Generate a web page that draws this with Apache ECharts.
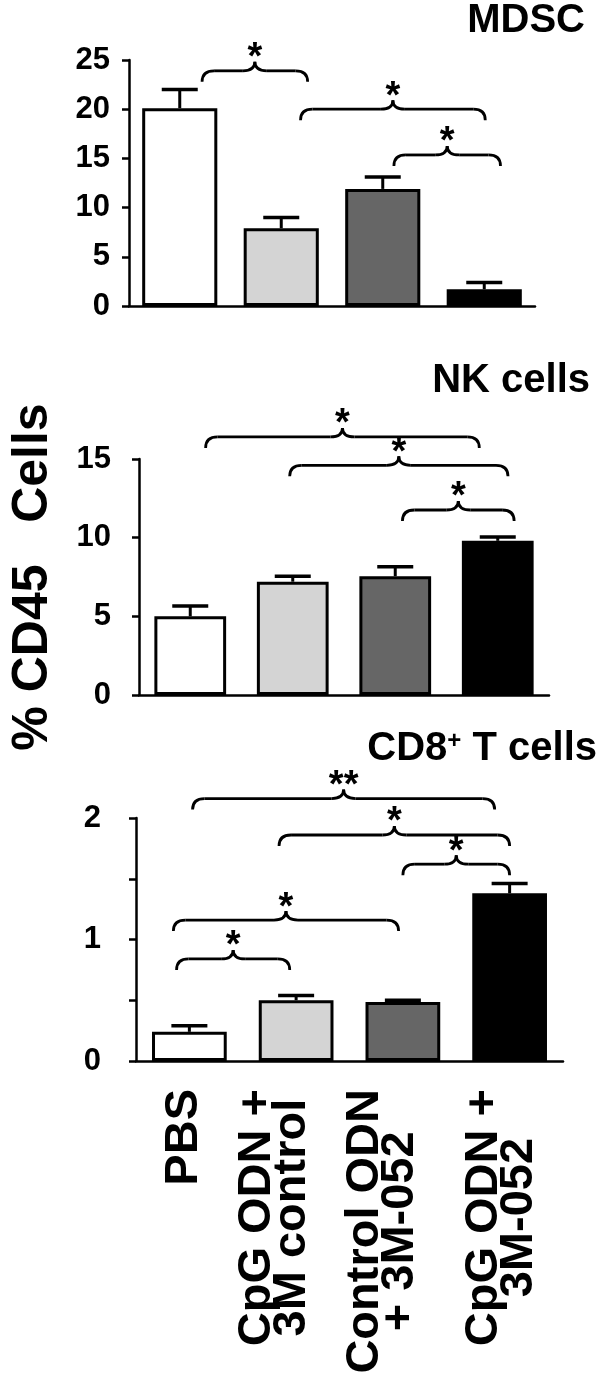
<!DOCTYPE html>
<html><head><meta charset="utf-8">
<script src="https://cdn.jsdelivr.net/npm/echarts@6/dist/echarts.min.js"></script>
<style>html,body{margin:0;padding:0;background:#fff}#c{width:600px;height:1392px}</style>
</head><body><div id="c"></div>
<script>
// ---- data ----
const categories = ['PBS', 'CpG ODN +\n3M control', 'Control ODN\n+ 3M-052', 'CpG ODN +\n3M-052'];

const mdscMean = [20.1, 7.9, 11.9, 1.7];
const mdscUpper = [22.0, 9.0, 13.1, 2.4];
const mdscTicks = { min: 0, max: 25, interval: 5 };
const mdscBracketFrom = [0.22, 1.19, 2.11];
const mdscBracketTo = [1.26, 3.01, 3.16];
const mdscBracketLevel = [23.9, 20.0, 15.35];
const mdscBracketStars = ['*', '*', '*'];

const nkMean = [5.0, 7.2, 7.55, 9.8];
const nkUpper = [5.65, 7.55, 8.15, 10.05];
const nkTicks = { min: 0, max: 15, interval: 5 };
const nkBracketFrom = [0.15, 0.97, 2.07];
const nkBracketTo = [2.82, 3.10, 3.16];
const nkBracketLevel = [16.4, 14.6, 11.76];
const nkBracketStars = ['*', '*', '*'];

const cd8Mean = [0.24, 0.50, 0.485, 1.38];
const cd8Upper = [0.29, 0.54, 0.50, 1.46];
const cd8Ticks = { min: 0, max: 2, interval: 0.5 };
const cd8BracketFrom = [0.03, 0.84, 2.0, -0.15, -0.12];
const cd8BracketTo = [2.86, 3.0, 3.0, 1.96, 0.94];
const cd8BracketLevel = [2.16, 1.86, 1.62, 1.16, 0.84];
const cd8BracketStars = ['**', '*', '*', '*', '*'];

const panelTitles = ['MDSC', 'NK cells', 'CD8{s|+} T cells'];
const yTitle = '% CD45   Cells';

// ---- styling ----
const FONT = '"Liberation Sans", Arial, Helvetica, sans-serif';
const barColors = ['#ffffff', '#d4d4d4', '#666666', '#000000'];
const labelShiftLeft = [5, 22, 20, 8]; // px, style only

function barSeries(idx, means, width) {
  return {
    type: 'bar', xAxisIndex: idx, yAxisIndex: idx, barWidth: width, silent: true,
    data: means.map((v, i) => ({ value: v, itemStyle: { color: barColors[i] } })),
    itemStyle: { borderColor: '#000', borderWidth: 3 }
  };
}
function errSeries(idx, means, uppers) {
  return {
    type: 'custom', xAxisIndex: idx, yAxisIndex: idx, clip: false, silent: true, z: 3,
    data: means.map((m, i) => [i, m, uppers[i]]),
    encode: { x: 0, y: 1 },
    renderItem(params, api) {
      const p0 = api.coord([api.value(0), api.value(1)]);
      const p1 = api.coord([api.value(0), api.value(2)]);
      return { type: 'group', children: [
        { type: 'line', shape: { x1: p0[0], y1: p0[1], x2: p1[0], y2: p1[1] }, style: { stroke: '#000', lineWidth: 3 } },
        { type: 'line', shape: { x1: p1[0] - 18, y1: p1[1], x2: p1[0] + 18, y2: p1[1] }, style: { stroke: '#000', lineWidth: 3.5 } }
      ]};
    }
  };
}
function bracketSeries(idx, from, to, level, stars) {
  return {
    type: 'custom', xAxisIndex: idx, yAxisIndex: idx, clip: false, silent: true, z: 4,
    data: level.map((l, i) => [0, l, from[i], to[i]]),
    encode: { x: 0, y: 1 },
    renderItem(params, api) {
      const c0 = api.coord([0, api.value(1)]);
      const band = api.size([1, 0])[0];
      const x1 = c0[0] + api.value(2) * band;
      const x2 = c0[0] + api.value(3) * band;
      const y = c0[1];
      const xm = (x1 + x2) / 2;
      const r = 12, drop = 11, rise = 9;
      const st = { stroke: '#000', lineWidth: 2.8, fill: null };
      return { type: 'group', children: [
        { type: 'bezierCurve', shape: { x1: x1, y1: y + drop, cpx1: x1, cpy1: y, x2: x1 + r, y2: y }, style: st },
        { type: 'line', shape: { x1: x1 + r, y1: y, x2: xm - r, y2: y }, style: st },
        { type: 'bezierCurve', shape: { x1: xm - r, y1: y, cpx1: xm, cpy1: y, x2: xm, y2: y - rise }, style: st },
        { type: 'bezierCurve', shape: { x1: xm, y1: y - rise, cpx1: xm, cpy1: y, x2: xm + r, y2: y }, style: st },
        { type: 'line', shape: { x1: xm + r, y1: y, x2: x2 - r, y2: y }, style: st },
        { type: 'bezierCurve', shape: { x1: x2 - r, y1: y, cpx1: x2, cpy1: y, x2: x2, y2: y + drop }, style: st },
        { type: 'text', x: xm, y: y - 12, style: { text: stars[params.dataIndex], font: 'bold 38px ' + FONT, fill: '#000', align: 'center', verticalAlign: 'middle' } }
      ]};
    }
  };
}

function xAxis(idx, showLabels) {
  return {
    type: 'category', gridIndex: idx,
    data: categories.map((c, i) => ({ value: c, textStyle: { padding: [0, 0, 2 * labelShiftLeft[i], 0] } })),
    axisLine: { lineStyle: { color: '#000', width: 2.5 } },
    axisTick: { alignWithLabel: true, length: 8, lineStyle: { color: '#000', width: 2.5 } },
    axisLabel: {
      show: showLabels, rotate: 90, margin: 28, interval: 0,
      fontSize: 47, lineHeight: 35, fontWeight: 'bold', fontFamily: FONT, color: '#000',
      formatter: v => v.split('\n').map(l => '{c|' + l + '}').join('\n'),
      rich: { c: { align: 'center', fontSize: 47, lineHeight: 35, fontWeight: 'bold', fontFamily: FONT, color: '#000' } }
    }
  };
}
function yAxis(idx, ticks, margin, fmt) {
  return {
    type: 'value', gridIndex: idx, min: ticks.min, max: ticks.max, interval: ticks.interval,
    splitLine: { show: false },
    axisLine: { show: true, lineStyle: { color: '#000', width: 2.5 } },
    axisTick: { show: true, length: 7, lineStyle: { color: '#000', width: 2.5 } },
    axisLabel: { margin: margin, fontSize: 31, fontWeight: 'bold', fontFamily: FONT, color: '#000', formatter: fmt }
  };
}

const titleStyle = (size) => ({ fontSize: size, fontWeight: 'bold', fontFamily: FONT, color: '#000',
  rich: { s: { fontSize: 24, fontWeight: 'bold', fontFamily: FONT, color: '#000', verticalAlign: 'top', lineHeight: 26 } } });

const yAxes = [
  yAxis(0, mdscTicks, 19),
  yAxis(1, nkTicks, 28),
  yAxis(2, cd8Ticks, 35, v => (Math.abs(v - Math.round(v)) < 1e-9 ? String(Math.round(v)) : ''))
];
Object.assign(yAxes[1], {
  name: yTitle, nameLocation: 'middle', nameGap: 81, nameRotate: 90,
  nameTextStyle: { fontSize: 50, fontWeight: 'bold', fontFamily: FONT, color: '#000' }
});

const option = {
  animation: false,
  backgroundColor: '#fff',
  title: [
    { text: panelTitles[0], right: 15, top: 1, padding: 0, textStyle: titleStyle(40) },
    { text: panelTitles[1], right: 10, top: 361, padding: 0, textStyle: titleStyle(40) },
    { text: panelTitles[2], right: 3, top: 729, padding: 0, textStyle: titleStyle(40) }
  ],
  grid: [
    { left: 129, top: 60, width: 406, height: 246 },
    { left: 133, top: 459, width: 416, height: 236 },
    { left: 136, top: 818, width: 427, height: 243 }
  ],
  xAxis: [xAxis(0, false), xAxis(1, false), xAxis(2, true)],
  yAxis: yAxes,
  series: [
    barSeries(0, mdscMean, '74%'), errSeries(0, mdscMean, mdscUpper),
    bracketSeries(0, mdscBracketFrom, mdscBracketTo, mdscBracketLevel, mdscBracketStars),
    barSeries(1, nkMean, '70%'), errSeries(1, nkMean, nkUpper),
    bracketSeries(1, nkBracketFrom, nkBracketTo, nkBracketLevel, nkBracketStars),
    barSeries(2, cd8Mean, '70%'), errSeries(2, cd8Mean, cd8Upper),
    bracketSeries(2, cd8BracketFrom, cd8BracketTo, cd8BracketLevel, cd8BracketStars)
  ]
};
const chart = echarts.init(document.getElementById('c'), null, { renderer: 'canvas' });
chart.setOption(option);
</script>
</body></html>
